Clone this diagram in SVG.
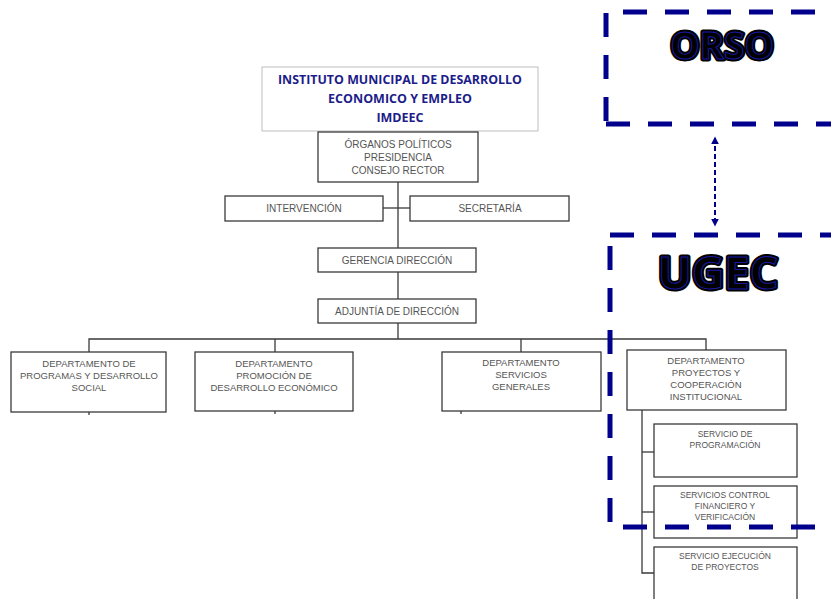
<svg xmlns="http://www.w3.org/2000/svg" width="831" height="599" viewBox="0 0 831 599">
<style>
.box{fill:#fff;stroke:#3a3a3a;stroke-width:1.3}
.t{font-family:"Liberation Sans",Arial,sans-serif;font-size:9.5px;fill:#555;text-anchor:middle}
.tb{font-family:"Liberation Sans",Arial,sans-serif;font-size:10px;fill:#555;text-anchor:middle}
.ln{stroke:#3a3a3a;stroke-width:1.3;fill:none}
.dash{stroke:#00008C;stroke-width:5;fill:none;stroke-dasharray:24 18}
.big{font-family:"Open Sans","Liberation Sans",sans-serif;font-weight:bold;text-anchor:middle;fill:#000;stroke:#000;stroke-width:5;stroke-linejoin:round}
.bigi{font-family:"Open Sans","Liberation Sans",sans-serif;font-weight:bold;text-anchor:middle;fill:#000;stroke:#1a1aa0;stroke-width:1}
.title{font-family:"Open Sans","Liberation Sans",sans-serif;font-weight:bold;font-size:12.5px;fill:#1c1c8a;text-anchor:middle}
</style>
<defs>
<marker id="ah" viewBox="0 0 10 10" refX="8" refY="5" markerWidth="4" markerHeight="4" orient="auto-start-reverse">
<path d="M0,0 L10,5 L0,10 z" fill="#00008C"/>
</marker>
</defs>
<g id="connectors">
<line class="ln" x1="398" y1="182" x2="398" y2="299"/>
<line class="ln" x1="383" y1="208" x2="410" y2="208"/>
<line class="ln" x1="398" y1="323" x2="398" y2="339"/>
<polyline class="ln" points="89,352 89,339 706,339 706,350"/>
<line class="ln" x1="275" y1="339" x2="275" y2="352"/>
<line class="ln" x1="521" y1="339" x2="521" y2="352"/>
<line class="ln" x1="89" y1="412" x2="89" y2="415"/>
<line class="ln" x1="275" y1="411" x2="275" y2="414"/>
<line class="ln" x1="461" y1="411" x2="461" y2="414"/>
<polyline class="ln" points="642,410 642,573 654,573"/>
<line class="ln" x1="642" y1="452" x2="654" y2="452"/>
<line class="ln" x1="642" y1="512" x2="654" y2="512"/>
<line x1="715" y1="138" x2="715" y2="225" stroke="#00008C" stroke-width="2" stroke-dasharray="5 3" marker-start="url(#ah)" marker-end="url(#ah)"/>
</g>
<g id="title">
<rect x="262" y="67" width="276" height="64" fill="#fff" stroke="#bdbdbd" stroke-width="1"/>
<text class="title" x="400" y="84" textLength="244" lengthAdjust="spacingAndGlyphs">INSTITUTO MUNICIPAL DE DESARROLLO</text>
<text class="title" x="400" y="103">ECONOMICO  Y EMPLEO</text>
<text class="title" x="400" y="122">IMDEEC</text>
</g>
<g id="organos">
<rect class="box" x="318" y="132" width="160" height="50"/>
<text class="tb" x="398" y="148">ÓRGANOS POLÍTICOS</text>
<text class="tb" x="398" y="161">PRESIDENCIA</text>
<text class="tb" x="398" y="174">CONSEJO RECTOR</text>
</g>
<g id="intervencion">
<rect class="box" x="225" y="196" width="158" height="25"/>
<text class="tb" x="304" y="212">INTERVENCIÓN</text>
</g>
<g id="secretaria">
<rect class="box" x="410" y="196" width="159" height="25"/>
<text class="tb" x="490" y="212">SECRETARÍA</text>
</g>
<g id="gerencia">
<rect class="box" x="318" y="248" width="158" height="24"/>
<text class="tb" x="397" y="264">GERENCIA DIRECCIÓN</text>
</g>
<g id="adjuntia">
<rect class="box" x="318" y="299" width="158" height="24"/>
<text class="tb" x="397" y="315">ADJUNTÍA DE DIRECCIÓN</text>
</g>
<g id="dep1">
<rect class="box" x="11" y="352" width="155" height="60"/>
<text class="t" x="89" y="367">DEPARTAMENTO DE</text>
<text class="t" x="89" y="379">PROGRAMAS Y DESARROLLO</text>
<text class="t" x="89" y="391">SOCIAL</text>
</g>
<g id="dep2">
<rect class="box" x="195" y="352" width="158" height="59"/>
<text class="t" x="274" y="367">DEPARTAMENTO</text>
<text class="t" x="274" y="379">PROMOCIÓN DE</text>
<text class="t" x="274" y="391">DESARROLLO ECONÓMICO</text>
</g>
<g id="dep3">
<rect class="box" x="442" y="352" width="159" height="59"/>
<text class="t" x="521" y="366">DEPARTAMENTO</text>
<text class="t" x="521" y="378">SERVICIOS</text>
<text class="t" x="521" y="390">GENERALES</text>
</g>
<g id="dep4">
<rect class="box" x="627" y="350" width="159" height="60"/>
<text class="t" x="706" y="364">DEPARTAMENTO</text>
<text class="t" x="706" y="376">PROYECTOS Y</text>
<text class="t" x="706" y="388">COOPERACIÓN</text>
<text class="t" x="706" y="400">INSTITUCIONAL</text>
</g>
<g id="serv1">
<rect class="box" x="654" y="424" width="143" height="53"/>
<text class="t" x="725" y="437" style="font-size:8.5px">SERVICIO DE</text>
<text class="t" x="725" y="448" style="font-size:8.5px">PROGRAMACIÓN</text>
</g>
<g id="serv2">
<rect class="box" x="654" y="486" width="143" height="52"/>
<text class="t" x="725" y="498" style="font-size:8.5px">SERVICIOS CONTROL</text>
<text class="t" x="725" y="509" style="font-size:8.5px">FINANCIERO Y</text>
<text class="t" x="725" y="520" style="font-size:8.5px">VERIFICACIÓN</text>
</g>
<g id="serv3">
<rect class="box" x="654" y="547" width="143" height="60"/>
<text class="t" x="725" y="559" style="font-size:8.5px">SERVICIO EJECUCIÓN</text>
<text class="t" x="725" y="570" style="font-size:8.5px">DE PROYECTOS</text>
</g>
<g id="orso">
<path class="dash" d="M606,124 L606,12 L840,12" style="stroke-dashoffset:-3"/>
<line class="dash" x1="606" y1="124" x2="840" y2="124"/>
<text class="big" x="722" y="59" font-size="37">ORSO</text>
<text class="bigi" x="722" y="59" font-size="37">ORSO</text>
</g>
<g id="ugec">
<line class="dash" x1="610" y1="235" x2="840" y2="235"/>
<line class="dash" x1="610" y1="246" x2="610" y2="525"/>
<line class="dash" x1="623" y1="527" x2="816" y2="527"/>
<text class="big" x="718" y="289" font-size="45">UGEC</text>
<text class="bigi" x="718" y="289" font-size="45">UGEC</text>
</g>
</svg>
